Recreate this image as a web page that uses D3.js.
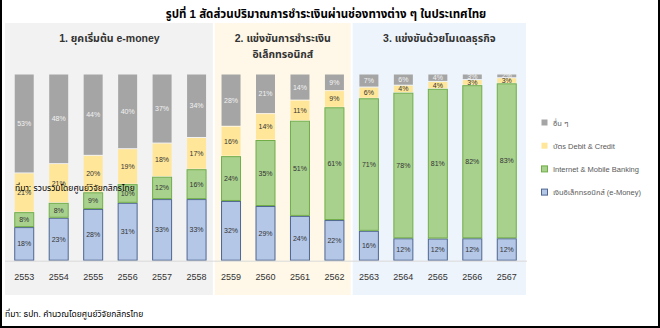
<!DOCTYPE html>
<html lang="th">
<head>
<meta charset="UTF-8">
<title>สัดส่วนปริมาณการชำระเงิน</title>
<script src="https://d3js.org/d3.v7.min.js"></script>
<style>
    body { margin: 0; background: #fff; }
    svg { display: block; font-family: "Liberation Sans", Arial, Tahoma, "Noto Sans Thai", sans-serif; }
</style>
</head>
<body>
<div id="chart"></div>
<script>
    // ปี พ.ศ.
    const years = ["2553","2554","2555","2556","2557","2558","2559","2560","2561","2562","2563","2564","2565","2566","2567"];
    // สัดส่วน (%) แต่ละช่องทาง
    const eMoney   = [18, 23, 28, 31, 33, 33, 32, 29, 24, 22, 16, 12, 12, 12, 12];
    const internet = [ 8,  8,  9, 10, 12, 16, 24, 35, 51, 61, 71, 78, 81, 82, 83];
    const cards    = [21, 21, 20, 19, 18, 17, 16, 14, 11,  9,  6,  4,  4,  3,  3];
    const others   = [53, 48, 44, 40, 37, 34, 28, 21, 14,  9,  7,  6,  4,  3,  2];

    const seriesKeys  = ["eMoney", "internet", "cards", "others"];
    const seriesNames = ["เงินอิเล็กทรอนิกส์ (e-Money)", "Internet & Mobile Banking", "บัตร Debit & Credit", "อื่น ๆ"];
    const fills   = ["#b4c7e7", "#a9d18e", "#ffe699", "#a5a5a5"];
    const strokes = ["#4f6690", "#70ad47", "none", "none"];

    const phases = [
        { lines: ["1. ยุคเริ่มต้น e-money"], from: "2553", to: "2558", fill: "#f2f2f2" },
        { lines: ["2. แข่งขันการชำระเงิน", "อิเล็กทรอนิกส์"], from: "2559", to: "2562", fill: "#fff8e8" },
        { lines: ["3. แข่งขันด้วยโมเดลธุรกิจ"], from: "2563", to: "2567", fill: "#eef4fb" }
    ];

    const width = 660, height = 328;

    const table = years.map((y, i) => ({
        year: y, eMoney: eMoney[i], internet: internet[i], cards: cards[i], others: others[i]
    }));

    const svg = d3.select("#chart").append("svg")
        .attr("width", width)
        .attr("height", height);

    // กรอบรูป
    svg.append("rect").attr("x", 0).attr("y", 0).attr("width", width).attr("height", height).attr("fill", "#fff");
    svg.append("rect").attr("x", 0).attr("y", 0).attr("width", 2).attr("height", height).attr("fill", "#000");
    svg.append("rect").attr("x", width - 2).attr("y", 0).attr("width", 2).attr("height", height).attr("fill", "#000");
    svg.append("rect").attr("x", 0).attr("y", height - 2).attr("width", width).attr("height", 2).attr("fill", "#000");

    const x = d3.scaleBand()
        .domain(years)
        .range([7, 524])
        .paddingInner(0.42)
        .paddingOuter(0.21);

    const y = d3.scaleLinear().domain([0, 1]).range([260.7, 74]);

    // พื้นหลังแต่ละช่วง
    const step = x.step();
    const panelTop = 23, panelBottom = 295;
    phases.forEach((p, i) => {
        let x0 = x(p.from) - (x.paddingInner() * step) / 2;
        let x1 = x(p.to) + x.bandwidth() + (x.paddingInner() * step) / 2;
        if (i === 0) x0 = 5;
        if (i === phases.length - 1) x1 = 527;
        svg.append("rect")
            .attr("x", x0 + (i > 0 ? 1 : 0))
            .attr("y", panelTop)
            .attr("width", x1 - x0 - 1 - (i > 0 ? 1 : 0))
            .attr("height", panelBottom - panelTop)
            .attr("fill", p.fill);
        const cx = (x0 + x1) / 2;
        p.lines.forEach((t, j) => {
            svg.append("text")
                .attr("x", cx)
                .attr("y", 42 + j * 15.5)
                .attr("text-anchor", "middle")
                .attr("font-size", 10.5)
                .attr("font-weight", "bold")
                .attr("fill", "#333")
                .text(t);
        });
    });

    // ชื่อรูป
    svg.append("text")
        .attr("x", 326)
        .attr("y", 18)
        .attr("text-anchor", "middle")
        .attr("font-size", 11.5)
        .attr("font-weight", "bold")
        .attr("fill", "#000")
        .text("รูปที่ 1 สัดส่วนปริมาณการชำระเงินผ่านช่องทางต่าง ๆ ในประเทศไทย");

    const stacked = d3.stack()
        .keys(seriesKeys)
        .offset(d3.stackOffsetExpand)(table);

    const layer = svg.selectAll(".layer")
        .data(stacked)
        .enter().append("g")
        .attr("class", "layer");

    layer.selectAll("rect")
        .data((d, i) => d.map(v => ({ v, i })))
        .enter().append("rect")
        .attr("x", d => x(d.v.data.year) + 0.5)
        .attr("y", d => y(d.v[1]) + 0.5)
        .attr("width", x.bandwidth() - 1)
        .attr("height", d => Math.max(0, y(d.v[0]) - y(d.v[1]) - 1))
        .attr("fill", d => fills[d.i])
        .attr("stroke", d => strokes[d.i])
        .attr("stroke-width", 1);

    layer.selectAll("text")
        .data((d, i) => d.map(v => ({ v, i, key: d.key })))
        .enter().append("text")
        .attr("x", d => x(d.v.data.year) + x.bandwidth() / 2)
        .attr("y", d => (y(d.v[0]) + y(d.v[1])) / 2 + 2.5)
        .attr("text-anchor", "middle")
        .attr("font-size", 7)
        .attr("fill", d => d.i === 3 ? "#f2f2f2" : "#333")
        .text(d => d.v.data[d.key] + "%");

    // เส้นฐาน
    svg.append("line")
        .attr("x1", 5).attr("x2", 527)
        .attr("y1", y(0) + 0.5).attr("y2", y(0) + 0.5)
        .attr("stroke", "#d9d9d9");

    // ป้ายปี
    svg.append("g").selectAll("text")
        .data(years)
        .enter().append("text")
        .attr("x", d => x(d) + x.bandwidth() / 2)
        .attr("y", 279.5)
        .attr("text-anchor", "middle")
        .attr("font-size", 9)
        .attr("fill", "#333")
        .text(d => d);

    // คำอธิบายสัญลักษณ์
    const legendOrder = [3, 2, 1, 0];
    const legend = svg.append("g").selectAll("g")
        .data(legendOrder)
        .enter().append("g")
        .attr("transform", (d, i) => `translate(541,${123 + i * 23.2})`);
    legend.append("rect")
        .attr("x", 0.5).attr("y", -3.5)
        .attr("width", 6).attr("height", 6)
        .attr("fill", d => fills[d])
        .attr("stroke", d => strokes[d]);
    legend.append("text")
        .attr("x", 12)
        .attr("y", 2.5)
        .attr("font-size", 7.5)
        .attr("fill", "#595959")
        .text(d => seriesNames[d]);

    // ข้อความแหล่งที่มา
    svg.append("text")
        .attr("x", 15)
        .attr("y", 191)
        .attr("font-size", 8.5)
        .attr("fill", "#000")
        .text("ที่มา: รวบรวมโดยศูนย์วิจัยกสิกรไทย");

    svg.append("text")
        .attr("x", 5)
        .attr("y", 317)
        .attr("font-size", 8.5)
        .attr("fill", "#000")
        .text("ที่มา: ธปท. คำนวณโดยศูนย์วิจัยกสิกรไทย");
</script>
</body>
</html>
